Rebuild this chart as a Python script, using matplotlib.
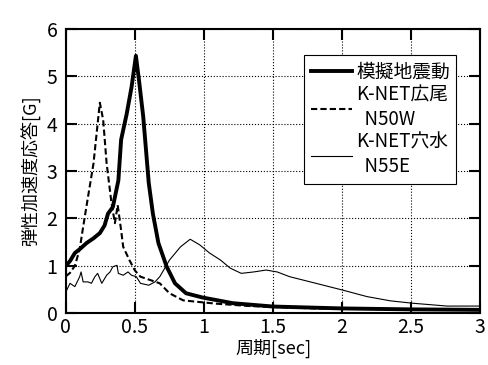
import matplotlib
matplotlib.use("Agg")
import matplotlib.pyplot as plt

plt.rcParams['font.family'] = ['Noto Sans CJK JP', 'DejaVu Sans']

# 模擬地震動 (thick solid)
t_sim = [0.0, 0.03, 0.065, 0.1, 0.15, 0.2, 0.246, 0.28, 0.305, 0.34, 0.38, 0.40, 0.44,
         0.476, 0.507, 0.53, 0.56, 0.6, 0.63, 0.67, 0.73, 0.79, 0.87, 0.99, 1.21, 1.5,
         2.0, 2.5, 3.0]
a_sim = [1.0, 1.1, 1.27, 1.35, 1.48, 1.58, 1.69, 1.85, 2.1, 2.24, 2.8, 3.66, 4.2,
         4.78, 5.43, 4.9, 4.15, 2.75, 2.1, 1.48, 0.98, 0.63, 0.42, 0.33, 0.21, 0.14,
         0.1, 0.08, 0.07]

# K-NET広尾 N50W (dashed)
t_hiro = [0.0, 0.03, 0.065, 0.1, 0.125, 0.16, 0.2, 0.23, 0.246, 0.27, 0.295, 0.33,
          0.355, 0.375, 0.40, 0.415, 0.46, 0.5, 0.54, 0.61, 0.68, 0.75, 0.85, 0.95,
          1.09, 1.33, 1.8, 2.4, 3.0]
a_hiro = [0.78, 0.85, 1.0, 1.35, 1.82, 2.45, 3.16, 4.0, 4.44, 4.08, 3.16, 2.33,
          1.9, 2.28, 1.75, 1.4, 1.12, 0.9, 0.77, 0.7, 0.63, 0.42, 0.27, 0.24,
          0.2, 0.15, 0.1, 0.08, 0.07]

# K-NET穴水 N55E (thin solid)
t_ana = [0.0, 0.03, 0.065, 0.1, 0.11, 0.125, 0.16, 0.185, 0.21, 0.23, 0.26, 0.295,
         0.32, 0.34, 0.37, 0.38, 0.415, 0.45, 0.475, 0.51, 0.54, 0.6, 0.645, 0.68,
         0.75, 0.83, 0.9, 0.97, 1.04, 1.12, 1.19, 1.27, 1.36, 1.45, 1.53, 1.62,
         1.77, 2.0, 2.18, 2.35, 2.51, 2.76, 3.0]
a_ana = [0.45, 0.63, 0.56, 0.77, 0.87, 0.66, 0.66, 0.63, 0.77, 0.84, 0.63, 0.8,
         0.87, 0.98, 1.01, 0.84, 0.8, 0.87, 0.8, 0.77, 0.63, 0.59, 0.66, 0.77,
         1.12, 1.4, 1.56, 1.44, 1.27, 1.12, 0.95, 0.84, 0.87, 0.91, 0.87, 0.77,
         0.66, 0.49, 0.35, 0.26, 0.21, 0.15, 0.15]

fig = plt.figure(figsize=(4.88, 3.65), dpi=100)
ax = fig.add_axes([0.135, 0.142, 0.849, 0.779])

ax.plot(t_sim, a_sim, color='black', lw=2.8, label='模擬地震動')
ax.plot(t_hiro, a_hiro, color='black', lw=1.5, ls=(0, (3, 1.5)), label='K-NET広尾\n  N50W')
ax.plot(t_ana, a_ana, color='black', lw=0.8, label='K-NET穴水\n  N55E')

ax.set_xlim(0, 3)
ax.set_ylim(0, 6)
ax.set_xticks([0, 0.5, 1, 1.5, 2, 2.5, 3])
ax.set_xticklabels(['0', '0.5', '1', '1.5', '2', '2.5', '3'])
ax.set_yticks(range(7))
ax.grid(True, color='black', ls=':', lw=0.8)
ax.tick_params(direction='in', length=8, width=1.5, top=True, right=True,
               labelsize=14, pad=6)
ax.tick_params(axis='x', pad=3)
for s in ax.spines.values():
    s.set_linewidth(1.5)

ax.set_xlabel('周期[sec]', fontsize=13, labelpad=0)
ax.set_ylabel('弾性加速度応答[G]', fontsize=13, labelpad=4)

leg = ax.legend(loc='upper right', bbox_to_anchor=(0.965, 0.94), fontsize=13.5,
                frameon=True, fancybox=False, edgecolor='black', framealpha=1,
                handlelength=2.2, handletextpad=0.2, labelspacing=0.1,
                borderpad=0.35)
leg.get_frame().set_linewidth(0.8)

fig.savefig('out.png', dpi=100)
